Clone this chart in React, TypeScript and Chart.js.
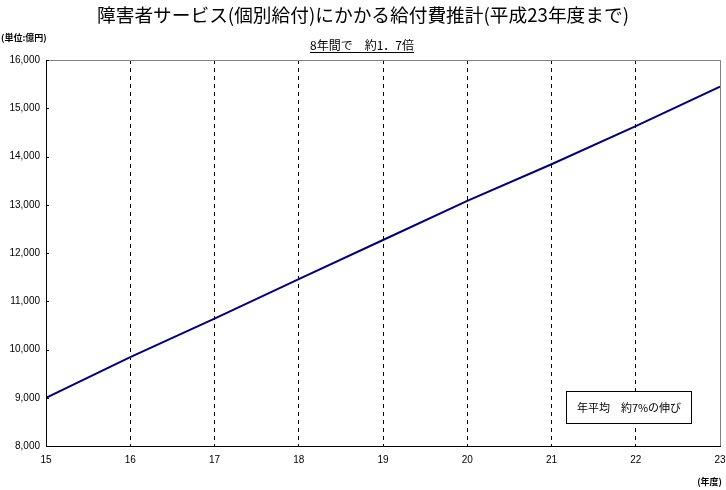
import React, { useEffect, useRef } from "react";
import { Chart, registerables } from "chart.js";

Chart.register(...registerables);

const years = [15, 16, 17, 18, 19, 20, 21, 22, 23];
const values = [9000, 9840, 10640, 11460, 12270, 13080, 13840, 14630, 15450];
const yMin = 8000;
const yMax = 16000;
const yStep = 1000;
const titleText = "障害者サービス(個別給付)にかかる給付費推計(平成23年度まで)";
const subtitleText = "8年間で　約1．7倍";
const unitText = "(単位:億円)";
const xUnitText = "(年度)";
const noteText = "年平均　約7%の伸び";

const JP = '"Noto Sans CJK JP", sans-serif';

const decorPlugin = {
  id: "decor",
  afterDraw(chart: any) {
    const { ctx, chartArea } = chart;
    const { left, right, top, bottom } = chartArea;
    ctx.save();
    ctx.strokeStyle = "#808080";
    ctx.lineWidth = 1;
    ctx.beginPath();
    ctx.moveTo(left, top + 0.5);
    ctx.lineTo(right + 0.5, top + 0.5);
    ctx.lineTo(right + 0.5, bottom);
    ctx.stroke();
    ctx.strokeStyle = "#000";
    ctx.beginPath();
    ctx.moveTo(left + 0.5, top);
    ctx.lineTo(left + 0.5, bottom + 0.5);
    ctx.lineTo(right + 1, bottom + 0.5);
    ctx.stroke();
    const ys = chart.scales.y;
    ys.ticks.forEach((t: any) => {
      const py = Math.round(ys.getPixelForValue(t.value)) + 0.5;
      ctx.beginPath();
      ctx.moveTo(left, py);
      ctx.lineTo(left + 3, py);
      ctx.stroke();
    });
    ctx.fillStyle = "#000";
    ctx.textBaseline = "middle";
    ctx.textAlign = "center";
    ctx.font = `18.7px ${JP}`;
    ctx.fillText(titleText, 363, 15);
    ctx.font = `12px ${JP}`;
    ctx.fillText(subtitleText, 362, 45);
    const w = ctx.measureText(subtitleText).width;
    ctx.beginPath();
    ctx.moveTo(362 - w / 2, 52.5);
    ctx.lineTo(362 + w / 2, 52.5);
    ctx.stroke();
    ctx.font = `bold 9px ${JP}`;
    ctx.textAlign = "left";
    ctx.fillText(unitText, 1, 38);
    ctx.textAlign = "right";
    ctx.fillText(xUnitText, 722, 482);
    ctx.fillStyle = "#fff";
    ctx.fillRect(566, 391, 125, 32);
    ctx.strokeStyle = "#000";
    ctx.strokeRect(566.5, 391.5, 125, 32);
    ctx.fillStyle = "#000";
    ctx.font = `11px ${JP}`;
    ctx.textAlign = "center";
    ctx.fillText(noteText, 629, 408);
    ctx.restore();
  },
};

export default function App() {
  const ref = useRef<HTMLCanvasElement>(null);
  useEffect(() => {
    document.body.style.margin = "0";
    const chart = new Chart(ref.current!, {
      type: "line",
      data: {
        datasets: [
          {
            data: years.map((x, i) => ({ x, y: values[i] })),
            borderColor: "#000080",
            borderWidth: 2,
            pointRadius: 0,
            tension: 0,
          },
        ],
      },
      options: {
        responsive: false,
        animation: false,
        layout: { padding: { left: 0, top: 60, right: 6, bottom: 0 } },
        plugins: { legend: { display: false }, tooltip: { enabled: false } },
        scales: {
          x: {
            type: "linear",
            min: years[0],
            max: years[years.length - 1],
            ticks: {
              stepSize: 1,
              color: "#000",
              font: { family: '"Liberation Sans", sans-serif', size: 10 },
              padding: 8,
              maxRotation: 0,
            },
            border: { display: false, dash: [4, 4] },
            grid: {
              drawTicks: false,
              color: (c: any) =>
                c.tick && (c.tick.value === years[0] || c.tick.value === years[years.length - 1])
                  ? "rgba(0,0,0,0)"
                  : "#000",
              lineWidth: 1,
            },
            afterFit: (s: any) => {
              s.height = 44;
              s.paddingLeft = 0;
              s.paddingRight = 0;
            },
          } as any,
          y: {
            min: yMin,
            max: yMax,
            ticks: {
              stepSize: yStep,
              color: "#000",
              font: { family: '"Liberation Sans", sans-serif', size: 10 },
              padding: 6,
              callback: (v: any) => Number(v).toLocaleString("en-US"),
            },
            border: { display: false },
            grid: { display: false, drawTicks: false },
            afterFit: (s: any) => {
              s.width = 46;
              s.paddingTop = 0;
              s.paddingBottom = 0;
            },
          } as any,
        },
      },
      plugins: [decorPlugin],
    });
    return () => chart.destroy();
  }, []);
  return (
    <div style={{ position: "fixed", left: 0, top: 0, width: 726, height: 490, background: "#fff" }}>
      <canvas ref={ref} width={726} height={490} />
    </div>
  );
}
